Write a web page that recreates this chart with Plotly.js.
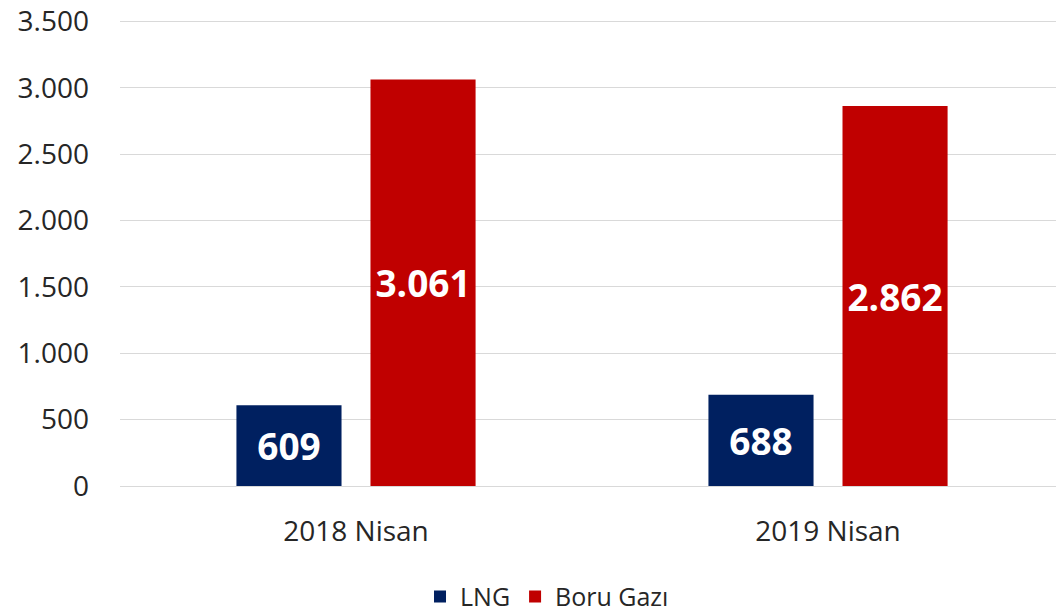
<!DOCTYPE html>
<html>
<head>
<meta charset="utf-8">
<script src="https://cdn.plot.ly/plotly-3.0.1.min.js"></script>
<style>html,body{margin:0;padding:0;background:#fff;}#chart{width:1056px;height:614px;}</style>
</head>
<body>
<div id="chart"></div>
<script>
const categories = ["2018 Nisan", "2019 Nisan"];
const lngValues = [609, 688];
const boruValues = [3061, 2862];
const seriesNames = ["LNG", "Boru Gazı"];
const yTickVals = [0, 500, 1000, 1500, 2000, 2500, 3000, 3500];
const yTickText = ["0", "500", "1.000", "1.500", "2.000", "2.500", "3.000", "3.500"];

function fmt(v) { return v.toString().replace(/\B(?=(\d{3})+(?!\d))/g, "."); }

const FONT = "Open Sans, Noto Sans, sans-serif";

const traces = [
  {
    type: "bar", name: seriesNames[0], x: categories, y: lngValues,
    marker: {color: "#002060"},
    text: lngValues.map(fmt), textposition: "inside", insidetextanchor: "middle",
    textfont: {family: FONT, size: 37, color: "#ffffff", weight: "bold"},
    hoverinfo: "none"
  },
  {
    type: "bar", name: seriesNames[1], x: categories, y: boruValues,
    marker: {color: "#C00000"},
    text: boruValues.map(fmt), textposition: "inside", insidetextanchor: "middle",
    textfont: {family: FONT, size: 37, color: "#ffffff", weight: "bold"},
    hoverinfo: "none"
  }
];

const layout = {
  width: 1056, height: 614,
  margin: {l: 120, r: 0, t: 20, b: 128},
  paper_bgcolor: "#ffffff", plot_bgcolor: "#ffffff",
  font: {family: FONT, color: "#262626"},
  barmode: "group", bargap: 0.432, bargroupgap: 0.216,
  showlegend: true,
  legend: {
    orientation: "h", xref: "container", yref: "container",
    x: 0.518, xanchor: "center", y: 0.028, yanchor: "middle",
    font: {family: FONT, size: 25, color: "#262626"},
    itemwidth: 30, traceorder: "normal"
  },
  xaxis: {
    type: "category", range: [-0.5, 1.483],
    showgrid: false, zeroline: false, showline: false, ticks: "",
    tickfont: {family: FONT, size: 28, color: "#262626"},
    ticklabelstandoff: 26, fixedrange: true
  },
  yaxis: {
    range: [0, 3510], tickvals: yTickVals, ticktext: yTickText,
    showgrid: true, gridcolor: "#d9d9d9", gridwidth: 1,
    zeroline: true, zerolinecolor: "#d9d9d9", zerolinewidth: 1,
    showline: false, ticks: "", ticklabeloverflow: "allow",
    tickfont: {family: FONT, size: 28, color: "#262626"},
    ticklabelstandoff: 30, fixedrange: true
  }
};

Plotly.newPlot("chart", traces, layout, {staticPlot: true, displayModeBar: false});
</script>
</body>
</html>
